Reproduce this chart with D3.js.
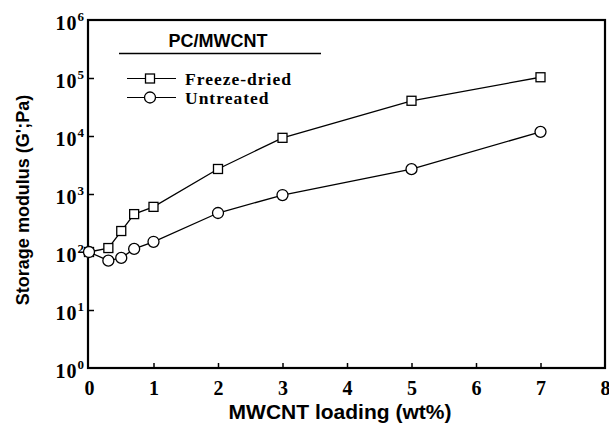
<!DOCTYPE html>
<html><head><meta charset="utf-8">
<script src="https://cdn.jsdelivr.net/npm/d3@7"></script>
<style>body{margin:0;background:#fff}svg{display:block}</style>
</head><body>
<svg id="c" width="609" height="432"></svg>
<script>
const loading = [0, 0.3, 0.5, 0.7, 1, 2, 3, 5, 7];
const freezeDried = [100, 117, 230, 450, 600, 2700, 9300, 40500, 103000];
const untreated = [100, 71, 79, 113, 150, 470, 960, 2680, 11800];
const xTicks = [0, 1, 2, 3, 4, 5, 6, 7, 8];
const yTickExps = [0, 1, 2, 3, 4, 5, 6];
const seriesNames = ["Freeze-dried", "Untreated"];
const legendTitle = "PC/MWCNT";
const xTitle = "MWCNT loading (wt%)";
const yTitle = "Storage modulus (G';Pa)";

const svg = d3.select("#c");
const L = 88, R = 605, T = 20, B = 368;
const x = d3.scaleLinear().domain([0, 8]).range([89, R]);
const y = d3.scaleLog().domain([1, 1e6]).range([B, T]);
const serif = "'Liberation Serif','Times New Roman',serif";
const sans = "'Liberation Sans',Arial,sans-serif";

// frame
svg.append("rect").attr("x", L).attr("y", T).attr("width", R - L).attr("height", B - T)
  .attr("fill", "none").attr("stroke", "#000").attr("stroke-width", 2.2);

// x ticks (inward)
const xAxis = d3.axisBottom(x).tickValues(xTicks).tickSizeInner(-5).tickSizeOuter(0).tickFormat(d3.format("d"));
const gx = svg.append("g").attr("transform", `translate(0,${B})`).call(xAxis);
gx.select(".domain").remove();
gx.selectAll(".tick line").attr("stroke-width", 1.5).filter(d => d === 0 || d === 8).remove();
gx.selectAll(".tick text").attr("y", 13).attr("font-family", serif).attr("font-weight", "bold")
  .attr("font-size", 20).attr("fill", "#000");

// y ticks (inward)
const yAxis = d3.axisLeft(y).tickValues(yTickExps.map(e => Math.pow(10, e))).tickSizeInner(-6).tickSizeOuter(0).tickFormat("");
const gy = svg.append("g").attr("transform", `translate(${L},0)`).call(yAxis);
gy.select(".domain").remove();
gy.selectAll(".tick line").attr("stroke-width", 1.5).filter(d => d === 1 || d === 1e6).remove();
gy.selectAll(".tick").each(function(d) {
  const e = Math.round(Math.log10(d));
  const t = d3.select(this).append("text").attr("x", -4).attr("y", 9)
    .attr("text-anchor", "end").attr("font-family", serif).attr("font-weight", "bold")
    .attr("fill", "#000").attr("font-size", 20);
  t.append("tspan").attr("letter-spacing", 1).text("10");
  t.append("tspan").attr("dy", -9).attr("font-size", 13).text(e);
});

// titles
svg.append("text").attr("x", 340).attr("y", 419).attr("text-anchor", "middle")
  .attr("font-family", sans).attr("font-weight", "bold").attr("font-size", 21).text(xTitle);
svg.append("text").attr("transform", "translate(29,200) rotate(-90)").attr("text-anchor", "middle")
  .attr("font-family", sans).attr("font-weight", "bold").attr("font-size", 18).text(yTitle);

// lines
const line = d3.line().x((d, i) => x(loading[i])).y(d => y(d));
const seriesData = [freezeDried, untreated];
seriesData.forEach(vals => {
  svg.append("path").datum(vals).attr("d", line).attr("fill", "none")
    .attr("stroke", "#000").attr("stroke-width", 1.3);
});
// markers
const sq = 9, cr = 5.5;
function square(g, cx, cy) {
  g.append("rect").attr("x", cx - sq / 2).attr("y", cy - sq / 2).attr("width", sq).attr("height", sq)
    .attr("fill", "#fff").attr("stroke", "#000").attr("stroke-width", 1.3);
}
function circle(g, cx, cy) {
  g.append("circle").attr("cx", cx).attr("cy", cy).attr("r", cr)
    .attr("fill", "#fff").attr("stroke", "#000").attr("stroke-width", 1.3);
}
const mg = svg.append("g");
freezeDried.forEach((v, i) => square(mg, x(loading[i]), y(v)));
untreated.forEach((v, i) => circle(mg, x(loading[i]), y(v)));

// legend
const lg = svg.append("g");
lg.append("text").attr("x", 218).attr("y", 47).attr("text-anchor", "middle")
  .attr("font-family", sans).attr("font-weight", "bold").attr("font-size", 18).text(legendTitle);
lg.append("line").attr("x1", 119).attr("x2", 321).attr("y1", 53.5).attr("y2", 53.5)
  .attr("stroke", "#000").attr("stroke-width", 1.5);
const ly = [78.5, 97.5];
seriesNames.forEach((n, i) => {
  lg.append("line").attr("x1", 127).attr("x2", 176).attr("y1", ly[i]).attr("y2", ly[i])
    .attr("stroke", "#000").attr("stroke-width", 1.1);
  if (i === 0) square(lg, 150, ly[i]); else circle(lg, 150, ly[i]);
  lg.append("text").attr("x", 185).attr("y", ly[i] + 6).attr("font-family", serif)
    .attr("font-weight", "bold").attr("font-size", 17.5).attr("letter-spacing", 1).text(n);
});
</script>
</body></html>
